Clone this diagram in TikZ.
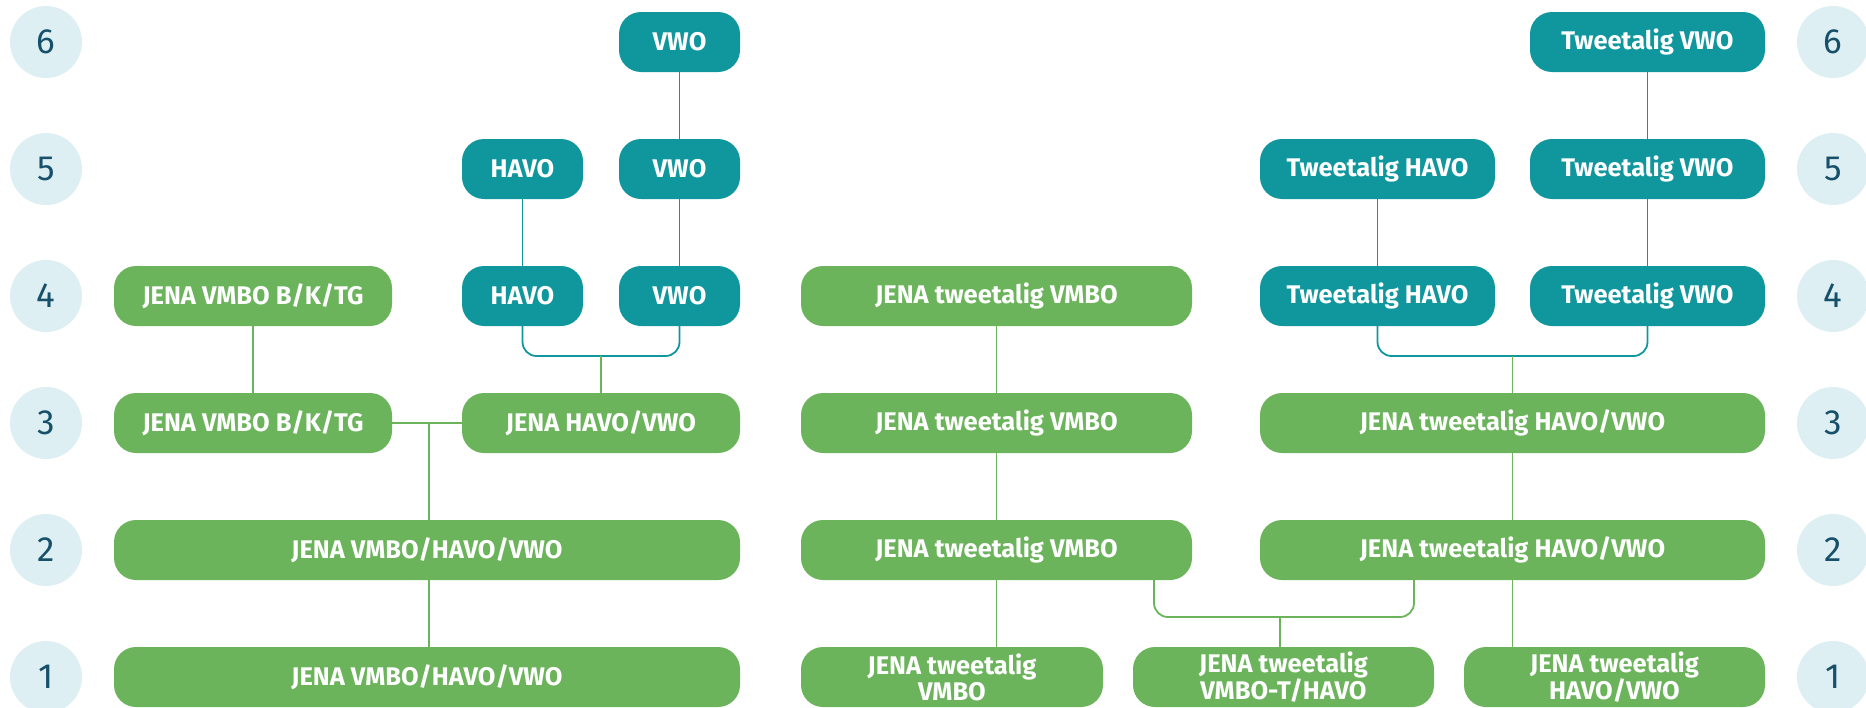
\documentclass[tikz,border=0pt]{standalone}
\usepackage{fontspec}
\setmainfont{Fira Sans}
\newfontfamily\boxfont{Fira Sans}
\definecolor{jgreen}{HTML}{6BB45B}
\definecolor{jteal}{HTML}{0F979D}
\definecolor{jcirc}{HTML}{DDEFF2}
\definecolor{jnum}{HTML}{17506A}
\tikzset{
  gbox/.style={draw=none, fill=jgreen, rounded corners=22pt, minimum height=60pt, inner sep=0pt,
    text=white, font=\boxfont\bfseries\fontsize{25.5}{26}\selectfont, align=center},
  tbox/.style={gbox, fill=jteal},
  lev/.style={circle, fill=jcirc, minimum size=72pt, inner sep=0pt, text=jnum, font=\fontsize{35}{37}\selectfont},
  gline/.style={draw=jgreen, line width=1.8pt},
  tline/.style={draw=jteal, line width=1.8pt},
}
\begin{document}
\begin{tikzpicture}[x=1pt,y=-1pt]
\useasboundingbox (0,0) rectangle (1866,707);
% level circles
\foreach \n/\y in {6/42,5/169,4/296,3/423,2/550,1/677}{
  \node[lev] (cl\n) at (46,\y) {\n};
  \node[lev] (cr\n) at (1833,\y) {\n};
}
% left boxes
\node[tbox, minimum width=121pt] (L6vwo) at (679.5,42) {VWO};
\node[tbox, minimum width=121pt] (L5havo) at (522.5,169) {HAVO};
\node[tbox, minimum width=121pt] (L5vwo) at (679.5,169) {VWO};
\node[gbox, minimum width=278pt] (L4vmbo) at (253,296) {JENA VMBO B/K/TG};
\node[tbox, minimum width=121pt] (L4havo) at (522.5,296) {HAVO};
\node[tbox, minimum width=121pt] (L4vwo) at (679.5,296) {VWO};
\node[gbox, minimum width=278pt] (L3vmbo) at (253,423) {JENA VMBO B/K/TG};
\node[gbox, minimum width=278pt] (L3hv) at (601,423) {JENA HAVO/VWO};
\node[gbox, minimum width=626pt] (L2) at (427,550) {JENA VMBO/HAVO/VWO};
\node[gbox, minimum width=626pt] (L1) at (427,677) {JENA VMBO/HAVO/VWO};
% right boxes
\node[tbox, minimum width=235pt] (R6vwo) at (1647.5,42) {Tweetalig VWO};
\node[tbox, minimum width=235pt] (R5havo) at (1377.5,169) {Tweetalig HAVO};
\node[tbox, minimum width=235pt] (R5vwo) at (1647.5,169) {Tweetalig VWO};
\node[gbox, minimum width=391pt] (R4vmbo) at (996.5,296) {JENA tweetalig VMBO};
\node[tbox, minimum width=235pt] (R4havo) at (1377.5,296) {Tweetalig HAVO};
\node[tbox, minimum width=235pt] (R4vwo) at (1647.5,296) {Tweetalig VWO};
\node[gbox, minimum width=391pt] (R3vmbo) at (996.5,423) {JENA tweetalig VMBO};
\node[gbox, minimum width=505pt] (R3hv) at (1512.5,423) {JENA tweetalig HAVO/VWO};
\node[gbox, minimum width=391pt] (R2vmbo) at (996.5,550) {JENA tweetalig VMBO};
\node[gbox, minimum width=505pt] (R2hv) at (1512.5,550) {JENA tweetalig HAVO/VWO};
\node[gbox, minimum width=302pt] (R1a) at (952,677) {JENA tweetalig\\VMBO};
\node[gbox, minimum width=301pt] (R1b) at (1283.5,677) {JENA tweetalig\\VMBO-T/HAVO};
\node[gbox, minimum width=301pt] (R1c) at (1614.5,677) {JENA tweetalig\\HAVO/VWO};
% coordinates
\coordinate (Lb) at (601,356);
\coordinate (Lj) at (429,423);
\coordinate (Rb) at (1512.5,356);
\coordinate (Rb2) at (1280,617);
\coordinate (Rs1) at (1154,580);
\coordinate (Rs2) at (1414,580);
% left connectors
\draw[tline] (L6vwo.south) -- (L5vwo.north);
\draw[tline] (L5vwo.south) -- (L4vwo.north);
\draw[tline] (L5havo.south) -- (L4havo.north);
\draw[tline, rounded corners=14pt] (L4havo.south) -- (L4havo.south |- Lb) -- (L4vwo.south |- Lb) -- (L4vwo.south);
\draw[gline] (Lb) -- (L3hv.north);
\draw[gline] (L4vmbo.south) -- (L3vmbo.north);
\draw[gline] (L3vmbo.east) -- (L3hv.west);
\draw[gline] (Lj) -- (Lj |- L2.north);
\draw[gline] (Lj |- L2.south) -- (Lj |- L1.north);
% right connectors
\draw[tline] (R6vwo.south) -- (R5vwo.north);
\draw[tline] (R5vwo.south) -- (R4vwo.north);
\draw[tline] (R5havo.south) -- (R4havo.north);
\draw[tline, rounded corners=14pt] (R4havo.south) -- (R4havo.south |- Rb) -- (R4vwo.south |- Rb) -- (R4vwo.south);
\draw[gline] (Rb) -- (R3hv.north);
\draw[gline] (R4vmbo.south) -- (R3vmbo.north);
\draw[gline] (R3vmbo.south) -- (R2vmbo.north);
\draw[gline] (R3hv.south) -- (R2hv.north);
\draw[gline] (R2vmbo.south) -- (R2vmbo.south |- R1a.north);
\draw[gline] (R2hv.south) -- (R2hv.south |- R1c.north);
\draw[gline, rounded corners=14pt] (Rs1) -- (Rs1 |- Rb2) -- (Rs2 |- Rb2) -- (Rs2);
\draw[gline] (Rb2) -- (Rb2 |- R1b.north);
\end{tikzpicture}
\end{document}
